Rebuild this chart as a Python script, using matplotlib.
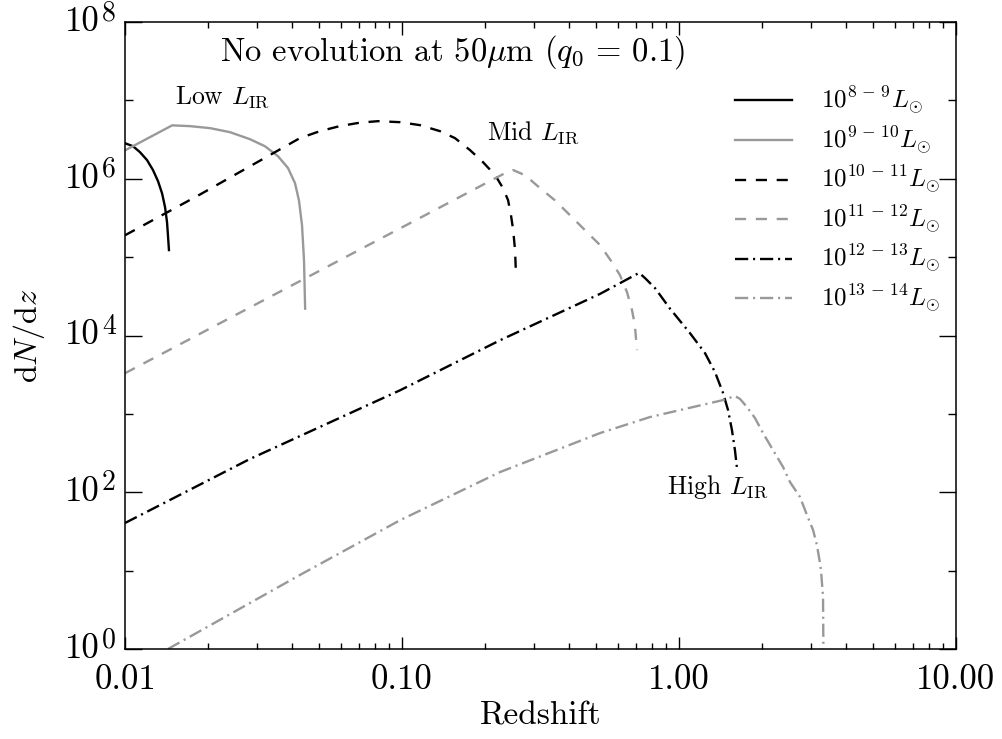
import numpy as np
import matplotlib
matplotlib.use("Agg")
import matplotlib.pyplot as plt
from matplotlib.ticker import FixedLocator, NullFormatter, FixedFormatter
import matplotlib.transforms as mtransforms

plt.rcParams['font.family'] = ['cmr10', 'DejaVu Serif']
plt.rcParams['mathtext.fontset'] = 'cm'
plt.rcParams['axes.formatter.use_mathtext'] = True
plt.rcParams['lines.scale_dashes'] = False

# ---- data (redshift z, dN/dz) ----
z_8_9 = [0.0100, 0.01069, 0.01133, 0.01201, 0.01262, 0.01316, 0.01361, 0.01395, 0.01418, 0.01429, 0.01441]
n_8_9 = [2.84e6, 2.6e6, 2.18e6, 1.73e6, 1.29e6, 9.3e5, 6.5e5, 4.34e5, 2.8e5, 1.91e5, 1.23e5]

z_9_10 = [0.0100, 0.0148, 0.01717, 0.0203, 0.02393, 0.02824, 0.0320, 0.03566, 0.03877,
          0.04108, 0.04246, 0.04355, 0.04428, 0.0447]
n_9_10 = [2.3e6, 4.8e6, 4.69e6, 4.42e6, 3.93e6, 3.2e6, 2.6e6, 1.94e6, 1.37e6,
          8.8e5, 5.3e5, 2.56e5, 9.2e4, 2.2e4]

z_10_11 = [0.0100, 0.01866, 0.0428, 0.05058, 0.0597, 0.07054, 0.0819, 0.0984, 0.1161, 0.1371,
           0.1553, 0.176, 0.196, 0.217, 0.2315, 0.2415, 0.2474, 0.252, 0.2559, 0.258]
n_10_11 = [1.9e5, 6.3e5, 3.3e6, 4.05e6, 4.7e6, 5.2e6, 5.43e6, 5.27e6, 4.83e6, 4.05e6,
           3.3e6, 2.32e6, 1.63e6, 1.11e6, 7.6e5, 5.33e5, 3.43e5, 2.21e5, 1.23e5, 5.9e4]

z_11_12 = [0.0100, 0.2355, 0.252, 0.278, 0.315, 0.3566, 0.404, 0.4576, 0.519, 0.573, 0.612,
           0.649, 0.6765, 0.693, 0.705]
n_11_12 = [3.3e3, 1.18e6, 1.29e6, 1.11e6, 7.6e5, 5.3e5, 3.43e5, 2.21e5, 1.42e5, 8.6e4, 5.9e4,
           3.58e4, 2.11e4, 1.36e4, 6.5e3]

z_12_13 = [0.0100, 0.0282, 0.0984, 0.226, 0.519, 0.718, 0.754, 0.819, 0.928, 1.096, 1.241,
           1.349, 1.442, 1.503, 1.553, 1.592, 1.62]
n_12_13 = [40.5, 265, 2.0e3, 8.7e3, 3.4e4, 6.3e4, 5.4e4, 4.03e4, 2.2e4, 1.07e4, 5.97e3,
           3.41e3, 1.85e3, 1.12e3, 621, 345, 200]

z_13_14 = [0.01429, 0.0428, 0.0984, 0.226, 0.519, 0.785, 1.442, 1.592, 1.661, 1.760, 1.881,
           2.01, 2.185, 2.375, 2.516, 2.734, 2.898, 3.048, 3.149, 3.228, 3.255, 3.311, 3.32, 3.32]
n_13_14 = [1.0, 8.8, 44, 181, 569, 910, 1.50e3, 1.69e3, 1.55e3, 1.22e3, 884,
           569, 345, 210, 135, 87, 51, 33, 21, 12.5, 10.2, 4.6, 1.19, 0.9]

labels = [r'$10^{8\,-\,9}L_{\odot}$', r'$10^{9\,-\,10}L_{\odot}$', r'$10^{10\,-\,11}L_{\odot}$',
          r'$10^{11\,-\,12}L_{\odot}$', r'$10^{12\,-\,13}L_{\odot}$', r'$10^{13\,-\,14}L_{\odot}$']

xticks = [0.01, 0.1, 1.0, 10.0]
xticklabels = ['0.01', '0.10', '1.00', '10.00']
yticks = [1e0, 1e2, 1e4, 1e6, 1e8]
yexponents = ['0', '2', '4', '6', '8']

GRAY = '#999999'
dash = (0, (8, 7))
dashdot = (0, (9.5, 3.5, 1.5, 3.5))

fig = plt.figure(figsize=(10.03, 7.39), dpi=100)
ax = fig.add_axes([125/1003, 1-649/739, (956-125)/1003, (649-22)/739])
ax.set_xscale('log')
ax.set_yscale('log')
ax.set_xlim(0.01, 10)
ax.set_ylim(1, 1e8)

lw = 1.7
ax.plot(z_8_9, n_8_9, color='black', lw=lw, label=labels[0])
ax.plot(z_9_10, n_9_10, color=GRAY, lw=lw, label=labels[1])
ax.plot(z_10_11, n_10_11, color='black', lw=lw, linestyle=dash, label=labels[2])
ax.plot(z_11_12, n_11_12, color=GRAY, lw=lw, linestyle=dash, label=labels[3])
ax.plot(z_12_13, n_12_13, color='black', lw=lw, linestyle=dashdot, label=labels[4])
ax.plot(z_13_14, n_13_14, color=GRAY, lw=lw, linestyle=dashdot, label=labels[5])

# ticks
ax.xaxis.set_major_locator(FixedLocator(xticks))
ax.xaxis.set_major_formatter(FixedFormatter(xticklabels))
minx = [m * 10.0**e for e in (-2, -1, 0) for m in range(2, 10)]
ax.xaxis.set_minor_locator(FixedLocator(minx))
ax.xaxis.set_minor_formatter(NullFormatter())
ax.yaxis.set_major_locator(FixedLocator(yticks))
ax.yaxis.set_major_formatter(NullFormatter())
ax.yaxis.set_minor_locator(FixedLocator([1e1, 1e3, 1e5, 1e7]))
ax.yaxis.set_minor_formatter(NullFormatter())

ax.tick_params(axis='both', which='both', direction='in', top=True, right=True,
               width=1.0, colors='black', labelsize=25)
ax.tick_params(axis='x', which='major', length=9, pad=11)
ax.tick_params(axis='x', which='minor', length=4.5)
ax.tick_params(axis='y', which='major', length=12)
ax.tick_params(axis='y', which='minor', length=6)
for s in ax.spines.values():
    s.set_linewidth(1.1)

# y tick labels: "10" with a large raised exponent
ytrans = mtransforms.blended_transform_factory(ax.transAxes, ax.transData)
base_tr = mtransforms.offset_copy(ytrans, fig=fig, x=-25/100*72, y=0, units='points')
exp_tr = mtransforms.offset_copy(ytrans, fig=fig, x=-23/100*72, y=9/100*72, units='points')
for v, e in zip(yticks, yexponents):
    ax.text(0, v, '10', transform=base_tr, ha='right', va='center', fontsize=25)
    ax.text(0, v, e, transform=exp_tr, ha='left', va='center', fontsize=20)

ax.set_xlabel('Redshift', fontsize=24, labelpad=4)
ax.set_ylabel(r'd$N$/d$z$', fontsize=23)
ax.yaxis.set_label_coords(-0.094, 0.5)

ax.text(0.394, 0.952, r'No evolution at 50$\mu$m ($q_0$ = 0.1)', transform=ax.transAxes,
        ha='center', va='center', fontsize=23.5)
ax.text(0.0152, 1.1e7, r'Low $L_{\rm IR}$', ha='left', va='center', fontsize=18.5)
ax.text(0.203, 3.9e6, r'Mid $L_{\rm IR}$', ha='left', va='center', fontsize=18.5)
ax.text(0.905, 117, r'High $L_{\rm IR}$', ha='left', va='center', fontsize=18.5)

leg = ax.legend(loc='upper left', bbox_to_anchor=(0.734, 0.899), frameon=False,
                fontsize=18, handlelength=2.3, handletextpad=1.15, labelspacing=0.3,
                borderpad=0, borderaxespad=0)

fig.savefig('out.png', dpi=100)
